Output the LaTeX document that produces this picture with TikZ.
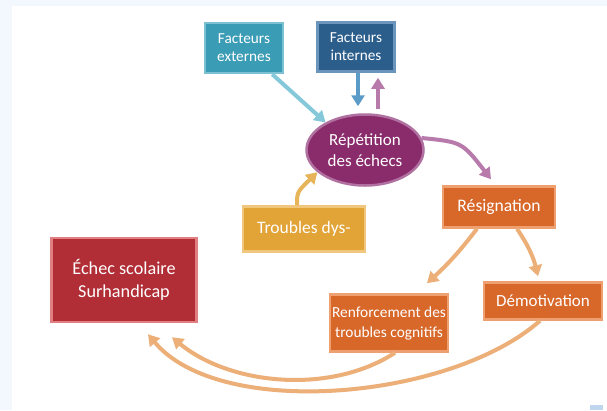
\documentclass[tikz,border=0pt]{standalone}
\usepackage{fontspec}
\setmainfont{Carlito}
\usetikzlibrary{arrows.meta,shapes.geometric}
\definecolor{pagebg}{HTML}{F3F8FE}
\definecolor{extfill}{HTML}{3B9CB6}\definecolor{extline}{HTML}{7BC0D3}
\definecolor{intfill}{HTML}{2C5E8C}\definecolor{intline}{HTML}{6B95BD}
\definecolor{repfill}{HTML}{8A2C6C}\definecolor{repline}{HTML}{B070A0}
\definecolor{dysfill}{HTML}{E2A337}\definecolor{dysline}{HTML}{F0C77C}
\definecolor{orfill}{HTML}{D8672A}\definecolor{orline}{HTML}{EFA070}
\definecolor{echfill}{HTML}{B12E37}\definecolor{echline}{HTML}{E07E82}
\definecolor{arrext}{HTML}{84C8DA}
\definecolor{arrint}{HTML}{5B9BC8}
\definecolor{arrrep}{HTML}{B77AAA}
\definecolor{arrdys}{HTML}{E8B45A}
\definecolor{arror}{HTML}{EDAF78}
\definecolor{cornermark}{HTML}{BFD6EE}
\tikzset{
  box/.style={rectangle, draw, line width=2.5pt, text=white, align=center, inner sep=2pt},
  link/.style={line width=4pt, -{Triangle[width=13pt,length=11pt]}},
}
\begin{document}
\begin{tikzpicture}[x=1pt,y=-1pt]
  % page frame
  \fill[pagebg] (0,0) rectangle (607,410);
  \fill[white] (12,6) rectangle (607,410);
  \fill[cornermark] (590,405) rectangle (603,410);
  \useasboundingbox (0,0) rectangle (607,410);

  % nodes
  \node[box, fill=extfill, draw=extline, minimum width=78pt, minimum height=50pt,
        font=\fontsize{15.3}{18}\selectfont] (ext) at (244,48) {Facteurs\\externes};
  \node[box, fill=intfill, draw=intline, minimum width=77pt, minimum height=49pt,
        font=\fontsize{15.3}{18}\selectfont] (int) at (356,47) {Facteurs\\internes};
  \node[ellipse, draw=repline, fill=repfill, line width=2.5pt, text=white, align=center,
        minimum width=117pt, minimum height=71pt, inner sep=0pt,
        font=\fontsize{17}{21}\selectfont] (rep) at (365,150) {Répétition\\des échecs};
  \node[box, fill=dysfill, draw=dysline, minimum width=122pt, minimum height=45pt,
        font=\fontsize{17.5}{20}\selectfont] (dys) at (304,229) {Troubles dys-};
  \node[box, fill=orfill, draw=orline, minimum width=112pt, minimum height=41pt,
        font=\fontsize{17.6}{20}\selectfont] (res) at (499,207) {Résignation};
  \node[box, fill=orfill, draw=orline, minimum width=118pt, minimum height=37pt,
        font=\fontsize{17}{20}\selectfont] (dem) at (543,301) {Démotivation};
  \node[box, fill=orfill, draw=orline, minimum width=118pt, minimum height=57pt,
        font=\fontsize{15.4}{20}\selectfont] (ren) at (389,323) {Renforcement des\\troubles cognitifs};
  \node[box, fill=echfill, draw=echline, minimum width=145pt, minimum height=84pt,
        font=\fontsize{18.2}{23}\selectfont] (ech) at (124,280) {Échec scolaire\\Surhandicap};

  % connectors
  \draw[link, arrext] ([xshift=-12pt]ext.south east) -- (rep.145);
  \draw[link, arrint] ([xshift=2pt]int.south) -- ([xshift=-7pt,yshift=7pt]rep.north);
  \draw[link, arrrep] ([xshift=13pt,yshift=4pt]rep.north) -- ([xshift=22pt,yshift=-5pt]int.south);
  \draw[link, arrrep] (rep.12) .. controls (462,142) .. ([xshift=-8pt,yshift=6pt]res.north);
  \draw[link, arrdys] ([xshift=-7pt]dys.north) .. controls (297,192) .. (rep.205);
  \draw[link, arror] ([xshift=-22pt]res.south) to[bend left=5] ([xshift=38pt,yshift=10pt]ren.north);
  \draw[link, arror] ([xshift=18pt]res.south) to[bend left=10] ([xshift=-5pt,yshift=5pt]dem.north);
  \draw[link, arror] ([xshift=6pt]ren.south) .. controls (330,395) and (230,385) .. ([xshift=48pt,yshift=-14pt]ech.south);
  \draw[link, arror] ([xshift=-3pt]dem.south) .. controls (450,400) and (220,420) .. ([xshift=24pt,yshift=-11pt]ech.south);
\end{tikzpicture}
\end{document}
